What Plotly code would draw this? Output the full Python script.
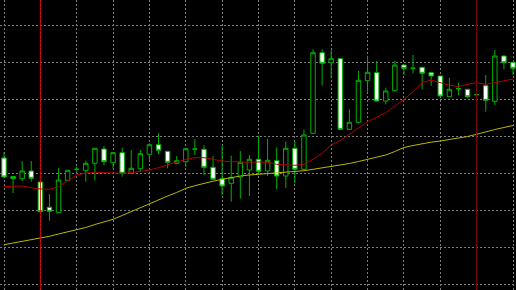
import plotly.graph_objects as go

# ---- data ----
bars = list(range(57))
opens = [132, 113.5, 111.3, 119, 108, 82.7, 77.3, 109.7, 120.7, 119.3,
         126.7, 141, 127.3, 137.3, 116.7, 121.3, 135.7, 145.3, 138.7, 126.7,
         128.3, 141, 140.7, 122.7, 111.3, 106.7, 113, 120, 130.7, 119,
         129.3, 114, 141.7, 120.7, 156.7, 237.3, 227.3, 231.3, 160.7, 167.7,
         209.3, 217.3, 189, 199.3, 225, 221.7, 222.7, 217.3, 214, 193.3,
         201.3, 200.7, 195.3, 204.3, 188.7, 234, 227.7]
highs = [138, 114, 129, 129, 109, 96, 121.7, 120, 123.3, 129.3,
         142, 144, 138, 142.3, 140, 140, 146.7, 156.7, 139, 134,
         142, 151, 145, 134, 144, 134.3, 139, 135, 154.3, 151,
         142.7, 148.3, 148.3, 160.5, 240.7, 240.7, 240, 232, 180.7, 219,
         234.3, 229, 202.3, 229.3, 225.5, 235, 223, 218.3, 214.5, 212.3,
         207.3, 201, 195.3, 215, 240, 234.5, 228]
lows = [112.5, 97, 109, 108.3, 78, 69.3, 77, 109, 118.3, 108.3,
        109.5, 125, 121.7, 113.3, 116.5, 118.3, 130, 135.7, 121.7, 126.5,
        123.3, 135, 115, 110.5, 95, 88.3, 91.3, 94, 117, 114,
        101, 102, 106.7, 120, 156, 204.3, 211.7, 160, 160, 166.7,
        198.3, 188.5, 185.7, 199, 215, 216.7, 200.7, 204.3, 193.5, 193,
        194.7, 191.7, 195.3, 178.3, 185, 220.7, 215]
closes = [113, 111.5, 119, 111.7, 78.3, 78.7, 110, 119.7, 120.7, 126.7,
          141.7, 128.3, 137.3, 116.7, 121.7, 136.3, 145.3, 139.7, 127.7, 129.3,
          141.3, 141, 122.7, 110.7, 104, 112.7, 127.7, 130.7, 118.7, 129.7,
          114, 141.7, 120.7, 155, 237.3, 226.7, 231.3, 160.7, 167.7, 209.7,
          217.7, 189, 199, 225, 221.5, 221.7, 216.7, 214, 194, 200.7,
          201.3, 193.3, 195.3, 189.7, 234, 227.3, 221.7]

ma_fast = [103.3, 103.5, 104, 102.3, 101, 100.7, 103.3, 109, 115, 117,
           117.7, 117.3, 116.7, 116.7, 117.3, 118.3, 120, 122.3, 125, 127.5,
           130.7, 132.3, 132.3, 130.7, 129, 128.3, 127.7, 127.7, 128, 127.7,
           125.7, 125, 124.7, 125.7, 130.7, 136.7, 145, 149.5, 155.7, 162.7,
           168.3, 172.7, 177.3, 184, 190.5, 198.3, 207.3, 210, 207.7, 204.7,
           203.3, 205.7, 207.3, 205.7, 207.3, 209.3, 211]
ma_slow = [45.3, 47, 48.5, 50.2, 51.7, 53.7, 56, 58, 60, 62.5,
           65.5, 68, 70.7, 74.5, 78.5, 82.5, 86.5, 90.5, 94, 97.5,
           101.7, 104.3, 106.7, 108.8, 110.7, 112.4, 114, 115, 115.7, 116.2,
           116.8, 117.3, 118, 119.3, 120.7, 122, 123.5, 125, 126.5, 128.5,
           130.7, 132.8, 135, 138.5, 142.5, 144.5, 146.5, 147.8, 149, 150.5,
           151.8, 153.5, 155.7, 158.3, 160.5, 162.5, 164.5]

vline_bars = [4, 52]
vline_colors = ["#d40000", "#7a0000"]

# ---- figure ----
green = "#00b000"
fig = go.Figure()
fig.add_trace(go.Candlestick(
    x=bars, open=opens, high=highs, low=lows, close=closes,
    increasing=dict(line=dict(color=green, width=1), fillcolor="#000000"),
    decreasing=dict(line=dict(color=green, width=1), fillcolor="#ffffff"),
    whiskerwidth=0, hoverinfo="skip", showlegend=False,
))
fig.add_trace(go.Scatter(x=bars, y=ma_fast, mode="lines",
                         line=dict(color="#b00000", width=1),
                         hoverinfo="skip", showlegend=False))
fig.add_trace(go.Scatter(x=bars, y=ma_slow, mode="lines",
                         line=dict(color="#b8b800", width=1),
                         hoverinfo="skip", showlegend=False))

for b, c in zip(vline_bars, vline_colors):
    fig.add_shape(type="line", xref="x", yref="paper", x0=b, x1=b, y0=0, y1=1,
                  line=dict(color=c, width=1), layer="above")

grid = dict(showgrid=True, gridcolor="#7c7c7c", gridwidth=1, griddash="2px,2px",
            showticklabels=False, zeroline=False, showline=False, ticks="")
fig.update_layout(
    width=516, height=290, margin=dict(l=0, r=0, t=0, b=0),
    paper_bgcolor="#000000", plot_bgcolor="#000000",
    showlegend=False, hovermode=False,
    xaxis=dict(range=[-0.44, 56.33], tick0=0, dtick=4,
               rangeslider=dict(visible=False), **grid),
    yaxis=dict(range=[0, 290], tick0=6, dtick=37, **grid),
)
fig.write_html("out.html", config={"displayModeBar": False})
